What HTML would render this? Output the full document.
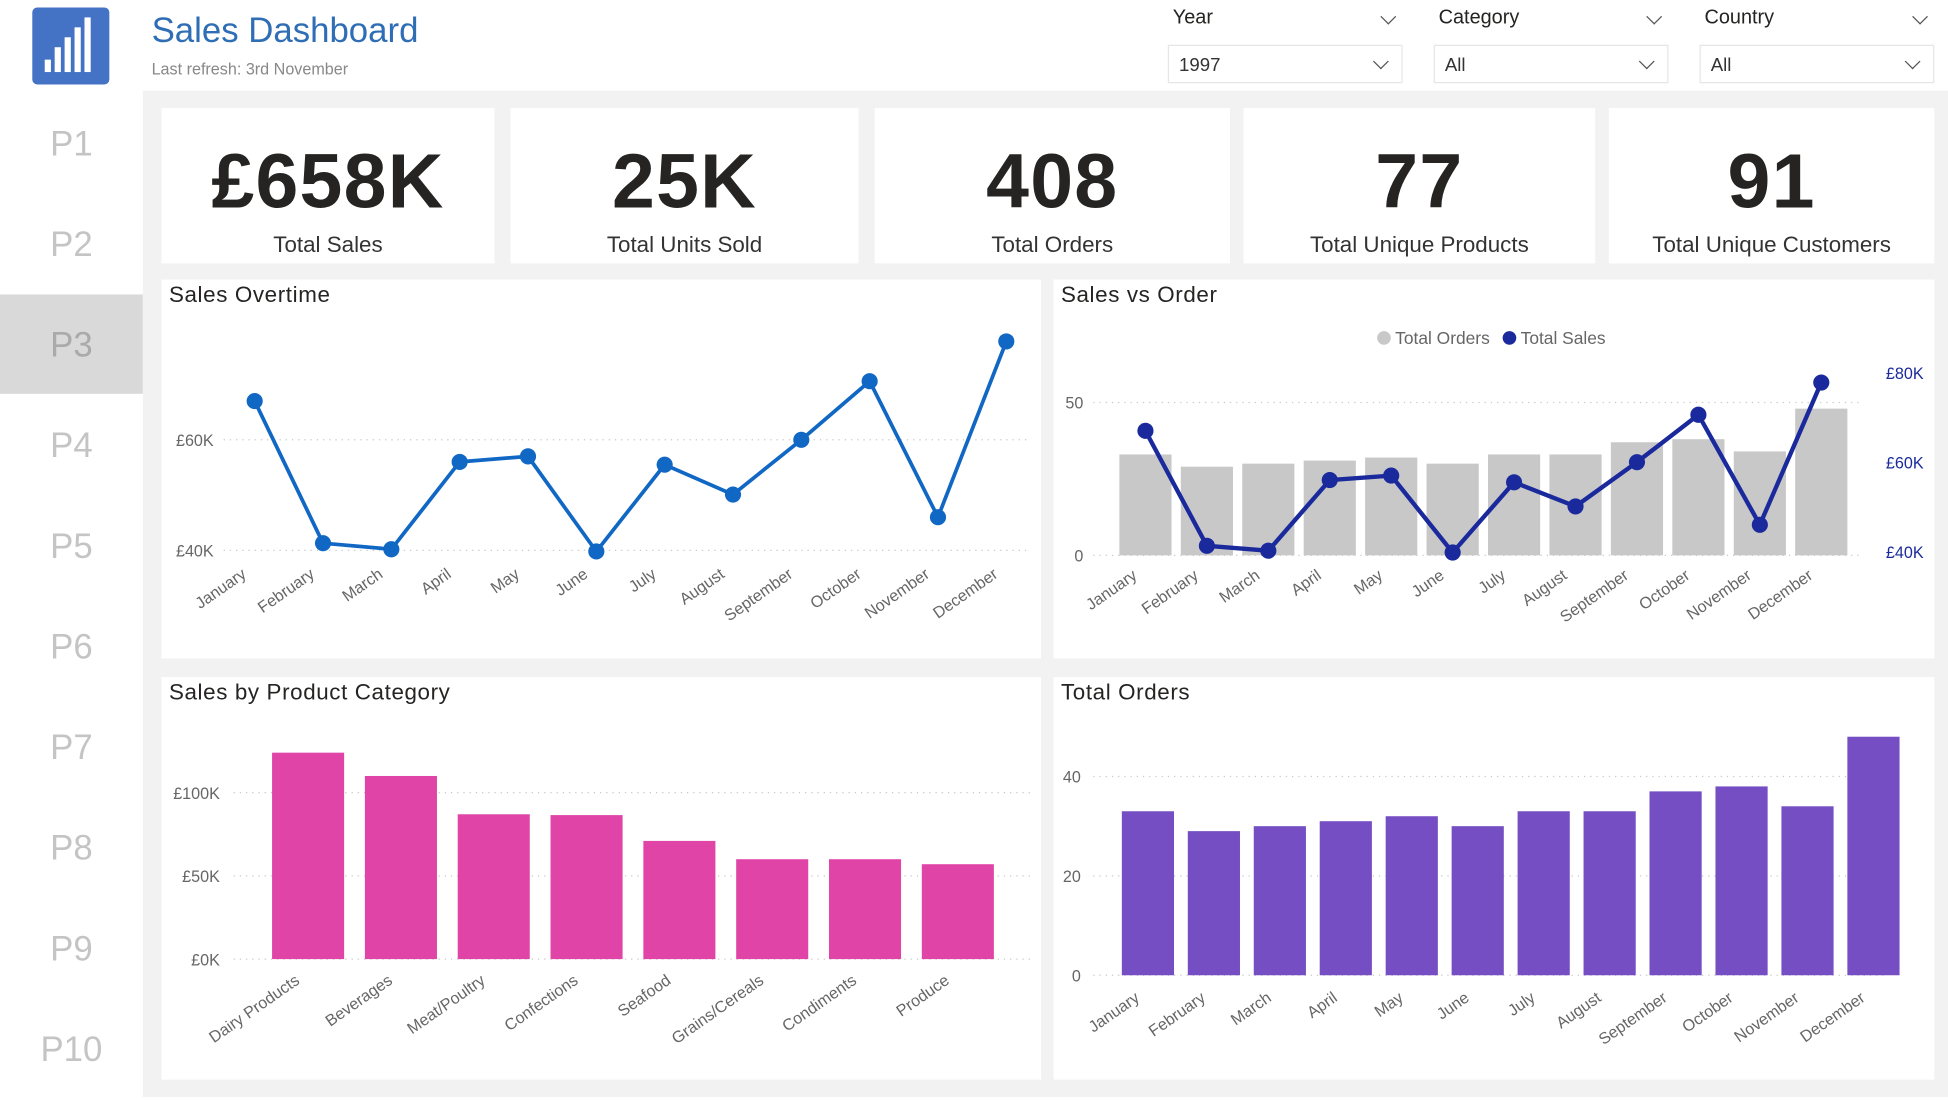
<!DOCTYPE html>
<html><head><meta charset="utf-8">
<style>
html,body{margin:0;padding:0;width:1948px;height:1097px;overflow:hidden;background:#fff;}
#root{position:absolute;left:0;top:0;width:1568px;height:883px;transform:scale(1.24235,1.24236);transform-origin:0 0;font-family:"Liberation Sans",sans-serif;background:#fff;}
.abs{position:absolute;}
.main{left:115px;top:73px;width:1453px;height:810px;background:#f2f2f2;}
.card{position:absolute;background:#fff;}
.kpi .num{position:absolute;left:0;right:0;top:24px;text-align:center;font-size:62px;font-weight:bold;color:#252423;letter-spacing:1px;}
.kpi .lbl{position:absolute;left:0;right:0;top:100px;text-align:center;font-size:18px;color:#333;}
.nav{position:absolute;left:0;width:115px;height:81px;line-height:81px;text-align:center;font-size:28px;color:#c4c4c4;}
.ptitle{position:absolute;font-size:18px;color:#252423;letter-spacing:.5px;}
.dd-label{position:absolute;font-size:16px;color:#252423;}
.dd-box{position:absolute;height:31px;border:1px solid #e6e6e6;background:#fff;font-size:15px;color:#333;line-height:31px;box-sizing:border-box;padding-left:8px;}
.chev{position:absolute;width:8px;height:8px;border-right:1.5px solid #555;border-bottom:1.5px solid #555;transform:rotate(45deg);}
</style></head><body>
<div id="root">
  <div class="abs" style="left:26px;top:6px;width:62px;height:62px;background:#4472c4;border-radius:4px;">
    <div class="abs" style="left:10px;top:42px;width:5px;height:10px;background:#fff"></div>
    <div class="abs" style="left:18px;top:32px;width:5px;height:20px;background:#fff"></div>
    <div class="abs" style="left:26px;top:24px;width:5px;height:28px;background:#fff"></div>
    <div class="abs" style="left:34px;top:16px;width:5px;height:36px;background:#fff"></div>
    <div class="abs" style="left:42px;top:8px;width:5px;height:44px;background:#fff"></div>
  </div>
  <div class="abs" style="left:122px;top:9px;font-size:28px;color:#2f6db5;">Sales Dashboard</div>
  <div class="abs" style="left:122px;top:48px;font-size:13px;color:#888;">Last refresh: 3rd November</div>

  <div class="dd-label" style="left:944px;top:6px;">Year</div>
  <div class="chev" style="left:1113px;top:9px;"></div>
  <div class="dd-box" style="left:940px;top:36px;width:189px;">1997<div class="chev" style="left:166px;top:8px;"></div></div>
  <div class="dd-label" style="left:1158px;top:6px;">Category</div>
  <div class="chev" style="left:1327px;top:9px;"></div>
  <div class="dd-box" style="left:1154px;top:36px;width:189px;">All<div class="chev" style="left:166px;top:8px;"></div></div>
  <div class="dd-label" style="left:1372px;top:6px;">Country</div>
  <div class="chev" style="left:1541px;top:9px;"></div>
  <div class="dd-box" style="left:1368px;top:36px;width:189px;">All<div class="chev" style="left:166px;top:8px;"></div></div>

  <div class="abs" style="left:0;top:237px;width:115px;height:80px;background:#d9d9d9;"></div>
  <div class="nav" style="top:75px;">P1</div>
  <div class="nav" style="top:156px;">P2</div>
  <div class="nav" style="top:237px;color:#aaa;">P3</div>
  <div class="nav" style="top:318px;">P4</div>
  <div class="nav" style="top:399px;">P5</div>
  <div class="nav" style="top:480px;">P6</div>
  <div class="nav" style="top:561px;">P7</div>
  <div class="nav" style="top:642px;">P8</div>
  <div class="nav" style="top:723px;">P9</div>
  <div class="nav" style="top:804px;">P10</div>

  <div class="abs main"></div>

  <div class="card kpi" style="left:130px;top:87px;width:268px;height:125px;"><div class="num">£658K</div><div class="lbl">Total Sales</div></div>
  <div class="card kpi" style="left:411px;top:87px;width:280px;height:125px;"><div class="num">25K</div><div class="lbl">Total Units Sold</div></div>
  <div class="card kpi" style="left:704px;top:87px;width:286px;height:125px;"><div class="num">408</div><div class="lbl">Total Orders</div></div>
  <div class="card kpi" style="left:1001px;top:87px;width:283px;height:125px;"><div class="num">77</div><div class="lbl">Total Unique Products</div></div>
  <div class="card kpi" style="left:1295px;top:87px;width:262px;height:125px;"><div class="num">91</div><div class="lbl">Total Unique Customers</div></div>

  <div class="card" style="left:130px;top:225px;width:708px;height:305px;"></div>
  <div class="card" style="left:848px;top:225px;width:709px;height:305px;"></div>
  <div class="card" style="left:130px;top:545px;width:708px;height:324px;"></div>
  <div class="card" style="left:848px;top:545px;width:709px;height:324px;"></div>
  <div class="ptitle" style="left:136px;top:227px;">Sales Overtime</div>
  <div class="ptitle" style="left:854px;top:227px;">Sales vs Order</div>
  <div class="ptitle" style="left:136px;top:547px;">Sales by Product Category</div>
  <div class="ptitle" style="left:854px;top:547px;">Total Orders</div>

  <svg id="charts" class="abs" style="left:0;top:0" width="1568" height="883"></svg>
</div>
<script>
const months = ["January","February","March","April","May","June","July","August","September","October","November","December"];
const monthlySales = [67, 41.3, 40.2, 56, 57, 39.8, 55.5, 50.1, 60, 70.6, 46, 77.8];
const monthlyOrders = [33, 29, 30, 31, 32, 30, 33, 33, 37, 38, 34, 48];
const categories = ["Dairy Products","Beverages","Meat/Poultry","Confections","Seafood","Grains/Cereals","Condiments","Produce"];
const categorySales = [124, 110, 87, 86.5, 71, 60, 60, 57];
const salesTicks = [40, 60];
const salesTickLabels = ["£40K","£60K"];
const svoLeftTicks = [0, 50];
const svoRightTicks = [40, 60, 80];
const svoRightLabels = ["£40K","£60K","£80K"];
const catTicks = [0, 50, 100];
const catTickLabels = ["£0K","£50K","£100K"];
const orderTicks = [0, 20, 40];

const NS = "http://www.w3.org/2000/svg";
const svg = document.getElementById("charts");
function mk(tag, attrs, parent) {
  const e = document.createElementNS(NS, tag);
  for (const k in attrs) e.setAttribute(k, attrs[k]);
  (parent || svg).appendChild(e);
  return e;
}
function lin(d0, d1, r0, r1) { return v => r0 + (v - d0) * (r1 - r0) / (d1 - d0); }
function band(n, first, last) { return i => first + i * (last - first) / (n - 1); }
function grid(y, x0, x1) {
  const l = mk("line", {x1: x0, x2: x1, y1: y, y2: y, stroke: "#c8c8c8", "stroke-width": 1, "stroke-dasharray": "1 4"});
  
  
}
function label(txt, x, y, anchor, color, name, size) {
  const t = mk("text", {x: x, y: y, "text-anchor": anchor, fill: color || "#666", "font-size": size || 13, "font-family": "Liberation Sans, sans-serif"});
  t.textContent = txt;
  
  
  return t;
}
function rotLabel(txt, x, y, name) {
  const t = label(txt, x, y, "end", "#666", name, 13);
  t.setAttribute("transform", "rotate(-35 " + x + " " + y + ")");
}

(function () {
  const y = lin(40, 60, 443, 354);
  const x = band(months.length, 205, 810);
  salesTicks.forEach((v, i) => { grid(y(v), 180, 828); label(salesTickLabels[i], 172, y(v) + 5, "end", "#666", "sales-y-tick"); });
  const pts = monthlySales.map((v, i) => x(i) + "," + y(v)).join(" ");
  const pl = mk("polyline", {points: pts, fill: "none", stroke: "#1167c4", "stroke-width": 3, "stroke-linejoin": "round"});
  
  
  monthlySales.forEach((v, i) => {
    const c = mk("circle", {cx: x(i), cy: y(v), r: 6.5, fill: "#1167c4"});
    
    
    rotLabel(months[i], x(i) - 6, 464, "sales-x-tick");
  });
})();

(function () {
  const yl = lin(0, 50, 447, 324);
  const yr = lin(40, 80, 444, 300);
  const x = band(months.length, 922, 1466);
  svoLeftTicks.forEach(v => { grid(yl(v), 880, 1500); label(String(v), 872, yl(v) + 5, "end", "#666", "svo-left-tick"); });
  svoRightTicks.forEach((v, i) => label(svoRightLabels[i], 1518, yr(v) + 5, "start", "#1a2a9c", "svo-right-tick"));
  monthlyOrders.forEach((v, i) => {
    const r = mk("rect", {x: x(i) - 21, y: yl(v), width: 42, height: yl(0) - yl(v), fill: "#c8c8c8"});
    
    
  });
  const pl = mk("polyline", {points: monthlySales.map((v, i) => x(i) + "," + yr(v)).join(" "), fill: "none", stroke: "#1a2a9c", "stroke-width": 3.5});
  
  
  monthlySales.forEach((v, i) => {
    const c = mk("circle", {cx: x(i), cy: yr(v), r: 6.5, fill: "#1a2a9c"});
    
    
    rotLabel(months[i], x(i) - 6, 465, "svo-x-tick");
  });
  const l1 = mk("circle", {cx: 1114, cy: 272, r: 5.5, fill: "#c8c8c8"});
  
  
  label("Total Orders", 1123, 277, "start", "#666", "legend-orders", 14);
  const l2 = mk("circle", {cx: 1215, cy: 272, r: 5.5, fill: "#1a2a9c"});
  
  
  label("Total Sales", 1224, 277, "start", "#666", "legend-sales", 14);
})();

(function () {
  const y = lin(0, 100, 772, 638);
  const x = band(categories.length, 248, 771);
  catTicks.forEach((v, i) => { grid(y(v), 188, 830); label(catTickLabels[i], 177, y(v) + 5, "end", "#666", "category-y-tick"); });
  categorySales.forEach((v, i) => {
    const r = mk("rect", {x: x(i) - 29, y: y(v), width: 58, height: y(0) - y(v), fill: "#e044a7"});
    
    
    rotLabel(categories[i], x(i) - 6, 791, "category-x-tick");
  });
})();

(function () {
  const y = lin(0, 40, 785, 625);
  const x = band(months.length, 924, 1508);
  orderTicks.forEach(v => { grid(y(v), 880, 1520); label(String(v), 870, y(v) + 5, "end", "#666", "orders-y-tick"); });
  monthlyOrders.forEach((v, i) => {
    const r = mk("rect", {x: x(i) - 21, y: y(v), width: 42, height: y(0) - y(v), fill: "#744ec2"});
    
    
    rotLabel(months[i], x(i) - 6, 805, "orders-x-tick");
  });
})();
</script>
</body></html>
